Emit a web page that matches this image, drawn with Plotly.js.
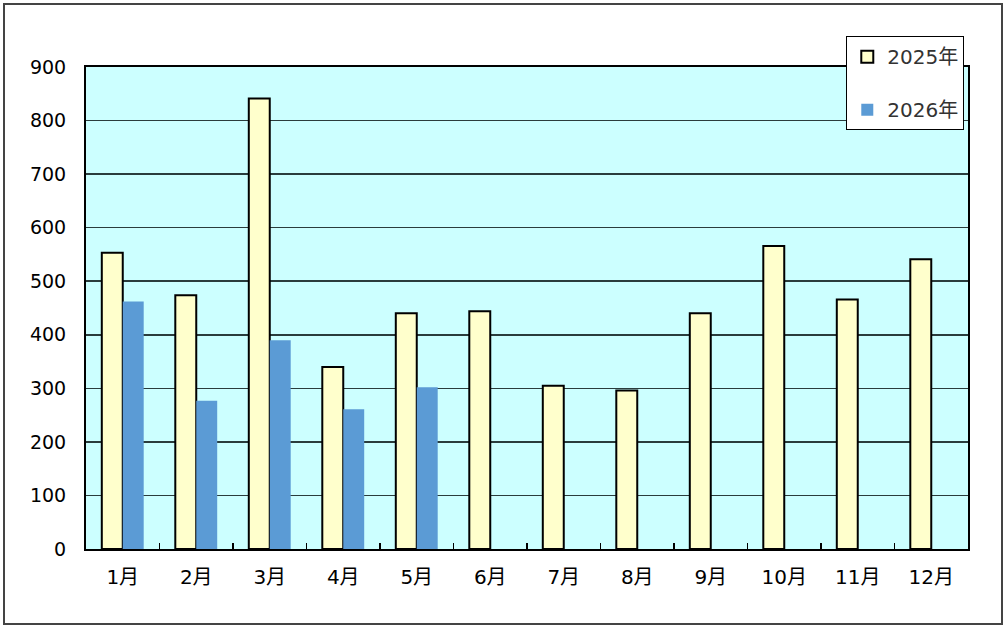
<!DOCTYPE html>
<html>
<head>
<meta charset="utf-8">
<script src="https://cdn.plot.ly/plotly-3.0.1.min.js"></script>
<style>
  body { margin: 0; background: #fff; }
  #myDiv { width: 1007px; height: 630px; }
  #frame { position: absolute; left: 3px; top: 3px; width: 996px; height: 618px;
           border: 2px solid #444; pointer-events: none; }
</style>
</head>
<body>
<div id="myDiv"></div>
<div id="frame"></div>
<script>
// months and values
var months = ['1月', '2月', '3月', '4月', '5月', '6月', '7月', '8月', '9月', '10月', '11月', '12月'];
var values2025 = [553, 474, 841, 340, 440, 444, 305, 296, 440, 566, 466, 541];
var values2026 = [462, 277, 390, 261, 302];
var yTicks = [0, 100, 200, 300, 400, 500, 600, 700, 800, 900];

var baseFont = 'DejaVu Sans, Noto Sans CJK JP, sans-serif';

var trace1 = {
    x: months,
    y: values2025,
    type: 'bar',
    name: '2025年',
    legendgroup: 'a',
    marker: { color: '#FFFFCC', line: { color: '#000', width: 2 } }
};

var trace2 = {
    x: months.slice(0, values2026.length),
    y: values2026,
    type: 'bar',
    name: '2026年',
    legendgroup: 'b',
    marker: { color: '#5B9BD5', line: { width: 0 } }
};

var layout = {
    width: 1007,
    height: 630,
    margin: { l: 86, r: 39, t: 67, b: 81 },
    paper_bgcolor: '#fff',
    plot_bgcolor: '#CCFFFF',
    barmode: 'group',
    bargap: 0.43,
    bargroupgap: 0,
    showlegend: true,
    legend: {
        x: 0.862, xanchor: 'left',
        y: 1.064, yanchor: 'top',
        bgcolor: '#fff',
        bordercolor: '#000',
        borderwidth: 1,
        traceorder: 'grouped',
        tracegroupgap: 24,
        itemwidth: 30,
        font: { family: baseFont, size: 20, color: '#333' }
    },
    xaxis: {
        type: 'category',
        tickson: 'boundaries',
        ticks: 'inside',
        ticklen: 6,
        tickcolor: '#000',
        tickwidth: 1.5,
        showline: true,
        linecolor: '#000',
        linewidth: 2,
        mirror: true,
        showgrid: false,
        ticklabelstandoff: 9,
        tickfont: { family: baseFont, size: 20, color: '#000' }
    },
    yaxis: {
        range: [0, 900],
        tickvals: yTicks,
        ticktext: yTicks.map(String),
        showline: true,
        linecolor: '#000',
        linewidth: 2,
        mirror: true,
        showgrid: true,
        gridcolor: '#2a3c3c',
        gridwidth: 1.5,
        zeroline: false,
        ticks: '',
        ticklabelstandoff: 14,
        tickfont: { family: baseFont, size: 19, color: '#000' }
    }
};

Plotly.newPlot('myDiv', [trace1, trace2], layout, { displayModeBar: false, staticPlot: true });
</script>
</body>
</html>
